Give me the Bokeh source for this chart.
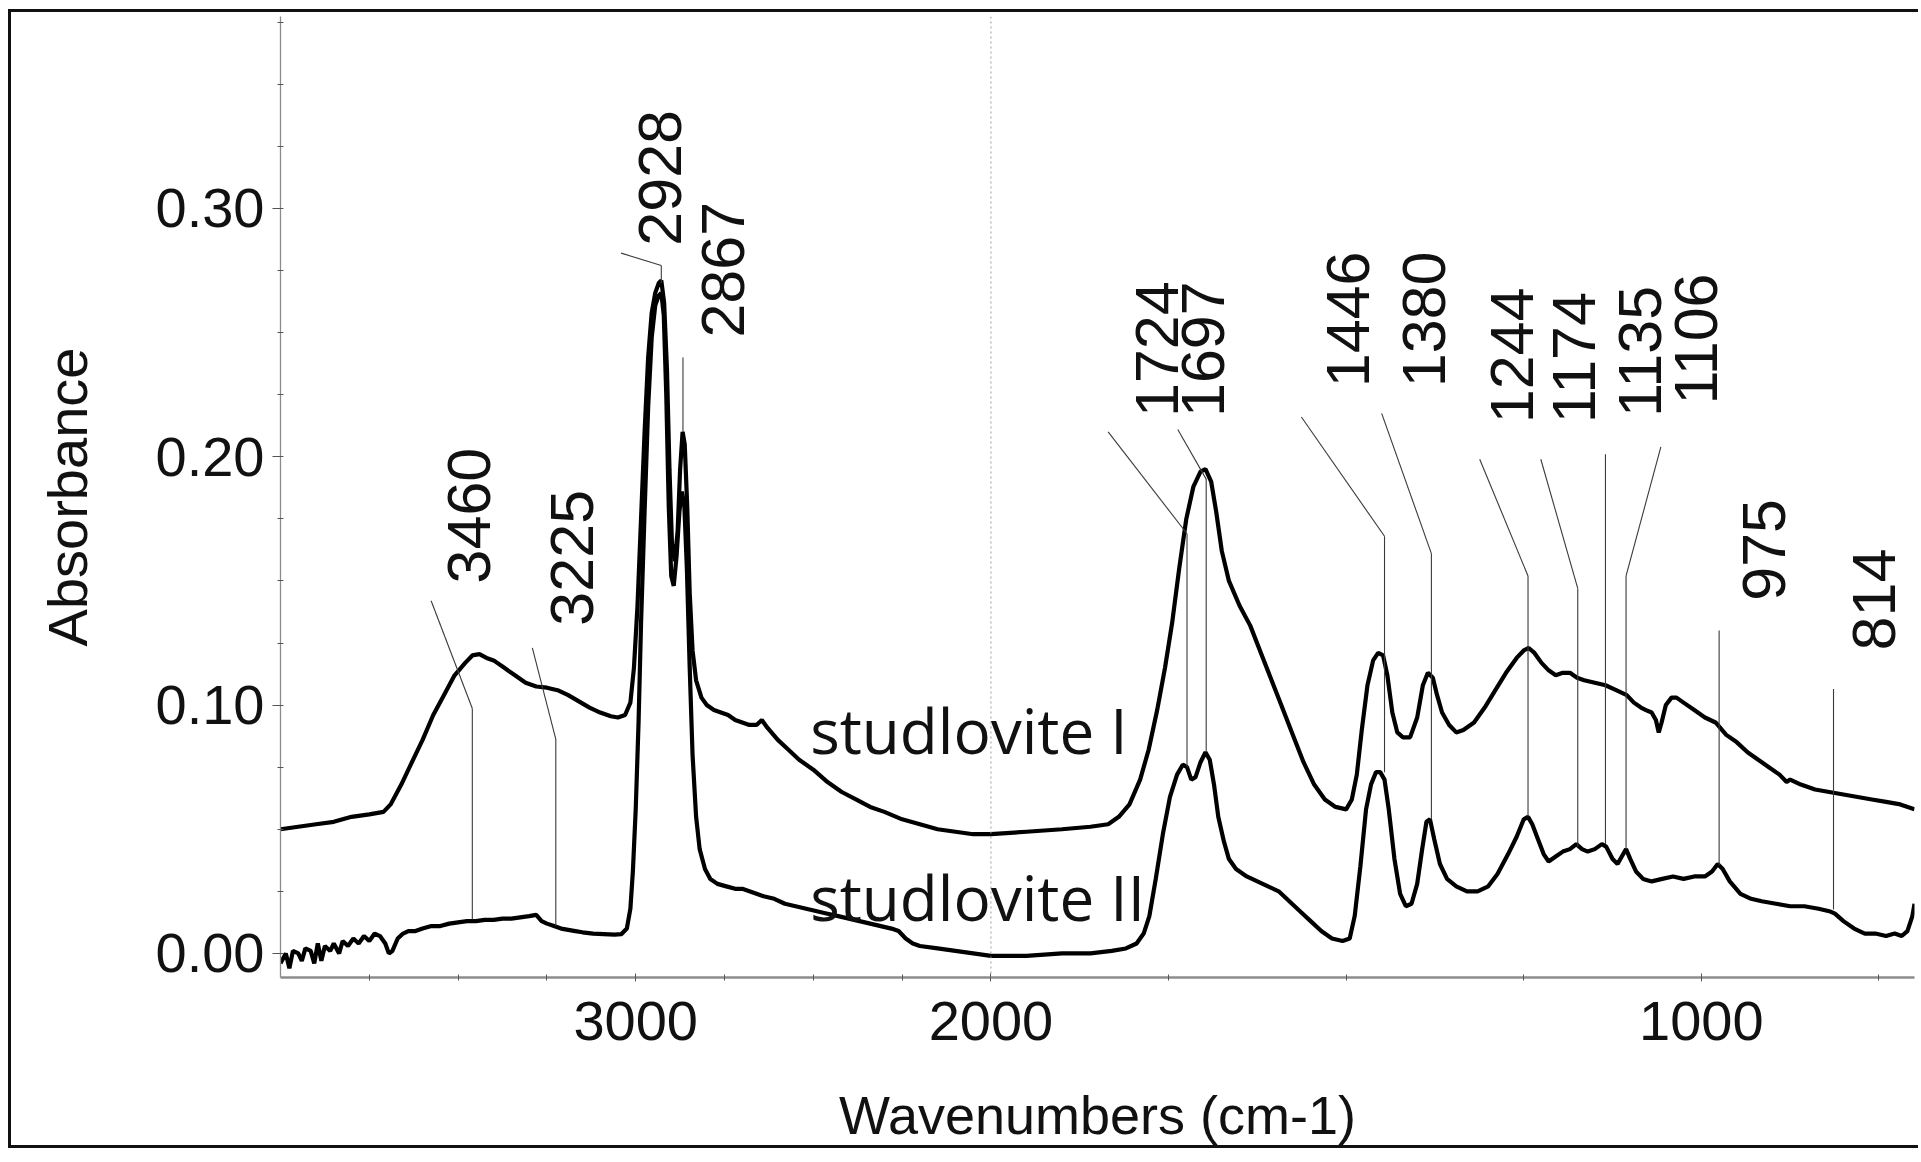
from math import pi
from bokeh.plotting import figure
from bokeh.models import (ColumnDataSource, Range1d, FixedTicker, CustomJSTickFormatter,
                          CustomJSTransform, Span)
from bokeh.transform import transform
from bokeh.core.properties import value
from bokeh.embed import file_html
from bokeh.resources import INLINE

# ---------------- data ----------------
wn_I = [4000, 3950, 3900, 3850, 3800, 3750, 3710, 3690, 3660, 3630, 3600, 3570, 3540, 3510, 3480,
        3460, 3440, 3420, 3400, 3370, 3340, 3310, 3280, 3250, 3220, 3190, 3160, 3130, 3100, 3070,
        3050, 3030, 3015, 3005, 2995, 2985, 2975, 2965, 2955, 2945, 2935, 2928, 2920, 2912, 2905,
        2898, 2890, 2882, 2875, 2868, 2862, 2855, 2848, 2840, 2830, 2815, 2800, 2780, 2760, 2740,
        2720, 2700, 2680, 2660, 2645, 2630, 2600, 2570, 2540, 2500, 2460, 2420, 2380, 2340, 2300,
        2250, 2200, 2150, 2100, 2050, 2000, 1950, 1900, 1860, 1835, 1820, 1805, 1790, 1778, 1766,
        1755, 1745, 1735, 1725, 1715, 1705, 1698, 1690, 1683, 1675, 1665, 1650, 1635, 1620, 1605,
        1590, 1575, 1560, 1545, 1530, 1515, 1500, 1492, 1485, 1478, 1470, 1462, 1455, 1448, 1442,
        1435, 1428, 1420, 1410, 1400, 1392, 1385, 1378, 1372, 1365, 1355, 1345, 1335, 1320, 1305,
        1290, 1275, 1260, 1250, 1243, 1235, 1225, 1215, 1205, 1195, 1185, 1175, 1165, 1150, 1135,
        1120, 1105, 1095, 1085, 1078, 1070, 1064, 1060, 1056, 1050, 1042, 1035, 1025, 1010, 995,
        980, 965, 950, 935, 920, 905, 890, 880, 875, 860, 840, 820, 800, 780, 760, 740, 720, 700]
abs_I = [0.050, 0.051, 0.052, 0.053, 0.055, 0.056, 0.057, 0.060, 0.068, 0.077, 0.086, 0.096, 0.104, 0.112, 0.117,
         0.120, 0.1205, 0.119, 0.118, 0.115, 0.112, 0.109, 0.1075, 0.107, 0.106, 0.104, 0.1015, 0.099, 0.097, 0.0955,
         0.095, 0.096, 0.101, 0.115, 0.140, 0.175, 0.210, 0.240, 0.258, 0.266, 0.270, 0.271, 0.262, 0.235, 0.195,
         0.165, 0.158, 0.170, 0.195, 0.210, 0.205, 0.180, 0.145, 0.122, 0.110, 0.103, 0.100, 0.098, 0.097, 0.096,
         0.094, 0.093, 0.092, 0.092, 0.094, 0.091, 0.086, 0.082, 0.078, 0.074, 0.069, 0.065, 0.062, 0.059, 0.057,
         0.054, 0.052, 0.050, 0.049, 0.048, 0.048, 0.049, 0.050, 0.051, 0.052, 0.055, 0.060, 0.070, 0.082, 0.098,
         0.115, 0.133, 0.155, 0.175, 0.188, 0.194, 0.195, 0.190, 0.178, 0.162, 0.150, 0.140, 0.132, 0.121, 0.110,
         0.099, 0.088, 0.077, 0.068, 0.062, 0.059, 0.058, 0.062, 0.072, 0.090, 0.108, 0.118, 0.121, 0.120, 0.112,
         0.097, 0.089, 0.087, 0.087, 0.095, 0.108, 0.113, 0.111, 0.104, 0.097, 0.092, 0.089, 0.090, 0.093, 0.099,
         0.106, 0.113, 0.119, 0.122, 0.123, 0.121, 0.117, 0.114, 0.112, 0.113, 0.113, 0.111, 0.110, 0.109, 0.108,
         0.106, 0.104, 0.101, 0.099, 0.098, 0.097, 0.094, 0.089, 0.093, 0.100, 0.103, 0.103, 0.101, 0.098, 0.095,
         0.093, 0.088, 0.085, 0.081, 0.078, 0.075, 0.072, 0.069, 0.070, 0.068, 0.066, 0.065, 0.064, 0.063, 0.062,
         0.061, 0.060, 0.058]

wn_II = [4000, 3985, 3975, 3965, 3950, 3940, 3930, 3915, 3905, 3895, 3885, 3875, 3860, 3850, 3835,
         3825, 3810, 3795, 3780, 3765, 3750, 3735, 3720, 3705, 3695, 3685, 3670, 3655, 3640, 3620,
         3600, 3575, 3550, 3525, 3500, 3475, 3450, 3425, 3400, 3375, 3350, 3325, 3300, 3280, 3265,
         3250, 3230, 3210, 3190, 3170, 3150, 3120, 3090, 3060, 3040, 3025, 3015, 3008, 3000, 2992,
         2985, 2975, 2965, 2955, 2945, 2935, 2928, 2921, 2914, 2907, 2900, 2893, 2885, 2877, 2870,
         2863, 2856, 2848, 2840, 2830, 2820, 2805, 2790, 2770, 2745, 2720, 2700, 2680, 2660, 2640,
         2610, 2580, 2550, 2520, 2490, 2460, 2430, 2400, 2370, 2340, 2310, 2280, 2260, 2240, 2220,
         2200, 2150, 2100, 2050, 2000, 1950, 1900, 1860, 1830, 1810, 1795, 1785, 1777, 1768, 1758,
         1748, 1738, 1730, 1724, 1718, 1712, 1705, 1698, 1692, 1686, 1680, 1672, 1665, 1655, 1640,
         1625, 1610, 1595, 1580, 1565, 1550, 1535, 1520, 1505, 1495, 1488, 1480, 1472, 1465, 1458,
         1452, 1446, 1440, 1432, 1424, 1416, 1408, 1400, 1393, 1387, 1382, 1376, 1368, 1358, 1345,
         1330, 1315, 1300, 1287, 1272, 1260, 1250, 1244, 1238, 1230, 1222, 1215, 1205, 1195, 1185,
         1176, 1168, 1160, 1150, 1140, 1134, 1125, 1118, 1112, 1106, 1100, 1092, 1082, 1070, 1055,
         1040, 1025, 1010, 995, 985, 977, 970, 960, 945, 930, 915, 895, 875, 855, 835,
         820, 812, 800, 785, 770, 755, 740, 728, 718, 710, 703, 700]
abs_II = [-0.004, 0.000, -0.006, 0.001, 0.000, -0.003, 0.002, 0.001, -0.004, 0.004, -0.003, 0.003, 0.001, 0.004, 0.000,
          0.005, 0.003, 0.006, 0.004, 0.007, 0.005, 0.008, 0.007, 0.004, 0.000, 0.001, 0.006, 0.008, 0.009, 0.009,
          0.010, 0.011, 0.011, 0.012, 0.0125, 0.013, 0.013, 0.0135, 0.0135, 0.014, 0.014, 0.0145, 0.015, 0.0155, 0.013,
          0.012, 0.011, 0.010, 0.0095, 0.009, 0.0085, 0.008, 0.0078, 0.0076, 0.0078, 0.010, 0.018, 0.033, 0.058, 0.093,
          0.133, 0.178, 0.220, 0.248, 0.261, 0.265, 0.266, 0.257, 0.225, 0.180, 0.152, 0.148, 0.160, 0.178, 0.186,
          0.180, 0.155, 0.115, 0.080, 0.055, 0.042, 0.034, 0.030, 0.028, 0.027, 0.026, 0.026, 0.025, 0.024, 0.023,
          0.022, 0.020, 0.019, 0.018, 0.017, 0.016, 0.015, 0.014, 0.013, 0.012, 0.011, 0.010, 0.009, 0.006, 0.004,
          0.003, 0.002, 0.001, 0.000, -0.001, -0.001, 0.000, 0.000, 0.001, 0.002, 0.004, 0.008, 0.015, 0.030, 0.048,
          0.063, 0.072, 0.076, 0.075, 0.070, 0.071, 0.077, 0.081, 0.078, 0.068, 0.055, 0.045, 0.038, 0.034, 0.031,
          0.029, 0.027, 0.025, 0.021, 0.017, 0.013, 0.009, 0.006, 0.005, 0.006, 0.015, 0.035, 0.058, 0.068, 0.073,
          0.073, 0.070, 0.058, 0.038, 0.024, 0.019, 0.020, 0.028, 0.042, 0.053, 0.054, 0.046, 0.036, 0.030, 0.027,
          0.025, 0.025, 0.027, 0.032, 0.040, 0.047, 0.054, 0.055, 0.052, 0.046, 0.040, 0.037, 0.039, 0.041, 0.042,
          0.044, 0.042, 0.041, 0.042, 0.044, 0.043, 0.038, 0.036, 0.039, 0.042, 0.038, 0.033, 0.030, 0.029, 0.030,
          0.031, 0.030, 0.031, 0.031, 0.033, 0.036, 0.034, 0.029, 0.024, 0.022, 0.021, 0.020, 0.019, 0.019, 0.018,
          0.017, 0.016, 0.013, 0.010, 0.008, 0.008, 0.007, 0.008, 0.007, 0.009, 0.015, 0.020]

# peak labels
peak_labels = ["3460", "3225", "2928", "2867", "1724", "1697", "1446", "1380",
               "1244", "1174", "1135", "1106", "975", "814"]
peak_wn = [3460, 3225, 2928, 2867, 1724, 1697, 1446, 1380, 1244, 1174, 1135, 1106, 975, 814]
# leader-line geometry (annotation layout)
lead_y0 = [0.0137, 0.011, 0.270, 0.210, 0.075, 0.081, 0.073, 0.054, 0.055, 0.043, 0.044, 0.042, 0.0355, 0.0177]
lead_y1 = [0.0986, 0.0863, 0.277, 0.240, 0.169, 0.191, 0.168, 0.161, 0.152, 0.147, 0.201, 0.152, 0.130, 0.1065]
lead_x2 = [3576, 3291, 3041, 2867, 1835, 1737, 1563, 1450, 1312, 1226, 1135, 1057, 975, 814]
lead_y2 = [0.142, 0.123, 0.282, 0.240, 0.210, 0.211, 0.216, 0.2175, 0.199, 0.199, 0.201, 0.204, 0.130, 0.1065]
text_x = [3470, 3180, 2932, 2755, 1766, 1701, 1498, 1390, 1266, 1179, 1087, 1007, 912, 757]
text_y = [0.149, 0.132, 0.285, 0.248, 0.216, 0.216, 0.228, 0.228, 0.2135, 0.2135, 0.216, 0.221, 0.142, 0.122]

series_names = ["studlovite I", "studlovite II"]
series_x = [2509, 2509]
series_y = [0.090, 0.0227]

SANS = "Liberation Sans"

# broken wavenumber axis: scale doubles below 2000 cm-1
brk = CustomJSTransform(
    func="return x >= 2000 ? x : 2000 - 2*(2000 - x);",
    v_func="""
const out = new Float64Array(xs.length);
for (let i = 0; i < xs.length; i++) { const v = xs[i]; out[i] = v >= 2000 ? v : 2000 - 2*(2000 - v); }
return out;
""")

p = figure(width=1910, height=1139, output_backend="svg", toolbar_location=None,
           x_range=Range1d(4000, -600), y_range=Range1d(-0.0097, 0.3773),
           min_border_left=269, min_border_right=7, min_border_top=4, min_border_bottom=174)
p.styles = {"margin-left": "8px", "margin-top": "9px",
            "border-left": "3px solid #111111", "border-top": "3px solid #111111",
            "border-bottom": "3px solid #111111"}
p.background_fill_color = "white"
p.border_fill_color = "white"
p.outline_line_color = None
p.grid.visible = False

# dotted scale-change line at 2000
p.add_layout(Span(location=2000, dimension="height", line_color="#9a9a9a",
                  line_dash="2 3", line_width=1))

srcI = ColumnDataSource(dict(wn=wn_I, a=abs_I))
srcII = ColumnDataSource(dict(wn=wn_II, a=abs_II))
p.line(x=transform("wn", brk), y="a", source=srcI, line_color="black", line_width=4.2)
p.line(x=transform("wn", brk), y="a", source=srcII, line_color="black", line_width=4.2)

lead = ColumnDataSource(dict(x=peak_wn, y0=lead_y0, y1=lead_y1, x2=lead_x2, y2=lead_y2))
p.segment(x0=transform("x", brk), y0="y0", x1=transform("x", brk), y1="y1", source=lead,
          line_color="#3a3a3a", line_width=1.1)
p.segment(x0=transform("x", brk), y0="y1", x1=transform("x2", brk), y1="y2", source=lead,
          line_color="#3a3a3a", line_width=1.1)

lab = ColumnDataSource(dict(x=text_x, y=text_y, t=peak_labels))
p.text(x=transform("x", brk), y="y", text="t", source=lab, angle=pi / 2,
       text_font=value(SANS), text_font_size="61px", text_align="left",
       text_baseline="middle", text_color="#111111")

ser = ColumnDataSource(dict(x=series_x, y=series_y, t=series_names))
p.text(x=transform("x", brk), y="y", text="t", source=ser, text_font=value("Open Sans"),
       text_font_size="62px", text_align="left", text_baseline="alphabetic", text_color="#111111")

# axes
xmaj = [3000, 2000, 0]
xmin = [3750, 3500, 3250, 3000, 2750, 2500, 2250, 2000, 1500, 1000, 500, 0, -500]
p.xaxis.ticker = FixedTicker(ticks=xmaj, minor_ticks=xmin)
p.xaxis.formatter = CustomJSTickFormatter(code="return String(tick >= 2000 ? tick : 2000 - (2000 - tick)/2);")
p.yaxis.ticker = FixedTicker(ticks=[0.0, 0.1, 0.2, 0.3],
                             minor_ticks=[i * 0.025 for i in range(0, 16)])
p.yaxis.formatter = CustomJSTickFormatter(code="return tick.toFixed(2);")

for ax in (p.xaxis[0], p.yaxis[0]):
    ax.axis_line_color = "#8c8c8c"
    ax.major_tick_line_color = "#555555"
    ax.minor_tick_line_color = "#555555"
    ax.major_label_text_font = SANS
    ax.major_label_text_font_size = "56px"
    ax.major_label_text_color = "#111111"
    ax.axis_label_text_font = SANS
    ax.axis_label_text_font_style = "normal"
    ax.axis_label_text_color = "#111111"

p.xaxis.axis_label = "Wavenumbers (cm-1)"
p.yaxis.axis_label = "Absorbance"
p.xaxis.axis_label_text_font_size = "54px"
p.yaxis.axis_label_text_font_size = "56px"
p.xaxis.axis_line_width = 2.5
p.yaxis.axis_line_width = 1.3
p.xaxis.major_tick_in = 4
p.xaxis.major_tick_out = 4
p.xaxis.minor_tick_in = 3
p.xaxis.minor_tick_out = 3
p.yaxis.major_tick_in = 2
p.yaxis.major_tick_out = 8
p.yaxis.minor_tick_in = 3
p.yaxis.minor_tick_out = 3
p.xaxis.major_label_standoff = 20
p.yaxis.major_label_standoff = 8
p.xaxis.axis_label_standoff = 42
p.yaxis.axis_label_standoff = 54

open("out.html", "w").write(file_html(p, INLINE))
